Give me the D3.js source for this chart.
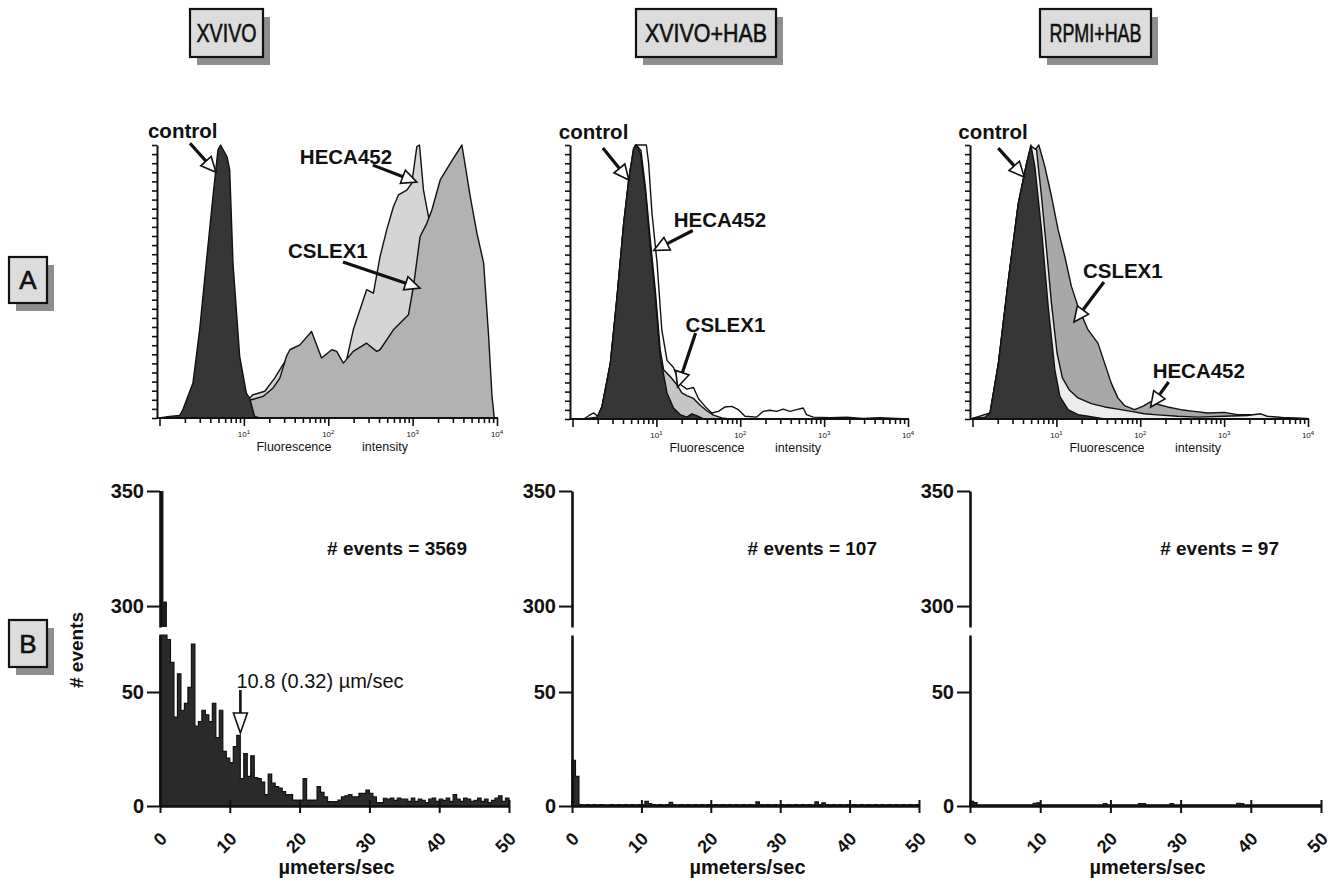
<!DOCTYPE html>
<html><head><meta charset="utf-8">
<script src="https://cdn.jsdelivr.net/npm/d3@7"></script>
<style>
body{margin:0;background:#fff}
svg{display:block}
text{font-family:"Liberation Sans",Arial,Helvetica,sans-serif;fill:#111}
</style></head>
<body><svg id="chart" width="1338" height="884"></svg>
<script>
// ---------------- DATA ----------------
const conditions = ["XVIVO", "XVIVO+HAB", "RPMI+HAB"];
const rowLabels = ["A", "B"];
const seriesNames = ["control", "HECA452", "CSLEX1"];
const decadeTicks = [10, 100, 1000, 10000];
const speedTicks = [0, 10, 20, 30, 40, 50];
const countTicksLow = [0, 50];
const countTicksHigh = [300, 350];
const eventTotals = [3569, 107, 97];
const medianLabel = "10.8 (0.32) \u00b5m/sec";
const medianValue = 10.8;

// Flow cytometry histograms: [fluorescence intensity, relative count (% of peak)]
const xvivoControl = [[1,0],[1.31,0.6],[1.73,0.9],[1.89,3],[2.49,12.8],[2.99,32.3],[3.58,56.7],[4.3,81.1],[4.93,98.2],[5.3,100],[6.31,95.7],[6.79,90.9],[7.43,56.7],[8.92,22.6],[10.7,9.1],[11.7,7.3],[13.4,0.6],[15.4,0]];
const xvivoHECA452 = [[3.27,0],[4.71,0.6],[6.79,1.8],[8.92,3.7],[12.8,8.5],[17.7,9.8],[23.2,14.6],[26.7,17.7],[32,21.6],[46.1,25.8],[63.4,30.1],[83.3,20.3],[110,23.4],[144,19.1],[165,21.3],[198,32.3],[285,47],[343,45.7],[411,59.1],[493,68.9],[592,77.4],[679,81.7],[853,83.5],[977,86],[1122,99.4],[1206,100],[1345,83.5],[1542,73.8],[1770,60],[2323,40],[3350,18],[4820,4],[6340,0]];
const xvivoCSLEX1 = [[3.58,0],[5.65,0.6],[8.15,2.4],[11.7,6.5],[16.9,7.9],[22.2,11],[26.7,14.6],[32,22.6],[35.1,25],[46.1,26.8],[63.4,31.7],[83.3,22],[110,25],[126,24.4],[151,20.1],[198,24.4],[285,27.4],[375,24.4],[411,25],[592,32.3],[892,37.8],[1023,48.2],[1227,66.5],[1473,71.3],[1690,76.2],[2123,87.2],[2792,93.3],[3840,100],[4820,81.1],[5780,67.7],[6950,56.7],[7960,29.9],[8730,7.9],[9290,0]];

const habControl = [[1.36,0],[1.96,0.7],[2.25,4.6],[2.83,20.4],[3.4,44.7],[4.08,71.4],[4.67,87.2],[5.36,98.8],[5.77,100],[6.44,97],[7.38,83.6],[8.46,62.9],[9.7,44.7],[11.1,22.8],[13.4,9.5],[16,4],[19.2,1.6],[23.1,0.7],[26.5,1.9],[30.3,1.2],[36.5,0]];
const habHECA452 = [[1.36,0],[1.56,1.2],[1.79,2.2],[2.06,0.7],[2.25,4.6],[2.83,20.4],[3.4,44.7],[4.08,71.4],[4.89,90.9],[5.61,100],[6.74,100],[7.59,100],[8.09,93.3],[8.86,75.1],[10.2,56.9],[11.6,32.6],[13.4,21.4],[16,18.8],[19.2,12.7],[23.1,10.9],[27.7,11.5],[31.8,7.4],[38.1,4.6],[45.8,2.2],[55,2.8],[65.9,4.4],[79.2,4.6],[95,3.4],[114,1],[157,0.7],[188,2.8],[226,3.2],[272,2.8],[326,3.6],[391,2.8],[469,3.4],[563,4],[617,1.6],[741,0.7],[1170,0.5],[1846,0.7],[2911,0.2],[4592,0.5],[7250,0.2],[10000,0]];
const habCSLEX1 = [[1.96,0],[2.25,4.6],[2.83,20.4],[3.4,44.7],[4.08,71.4],[4.67,87.2],[5.36,98.8],[5.77,100],[6.55,98],[7.38,84.8],[8.46,65.4],[9.7,47.1],[11.1,25.3],[12.2,18],[14.6,15.5],[17.6,12.5],[20.1,9.5],[23.1,8.5],[27.7,7.5],[33.3,5],[39.9,3],[47.9,1.4],[60.2,0.4],[75.6,0]];

const rpmiControl = [[1,0.2],[1.41,0.7],[1.62,2.2],[2.04,20.4],[2.68,50.8],[3.52,78.7],[4.42,93.3],[4.97,100],[5.54,92.1],[6.65,69],[7.98,41.1],[9.58,18],[11,8.3],[13.8,3.4],[18.1,1.6],[23.8,1],[37.6,0]];
const rpmiHECA452 = [[1,0.2],[1.62,2.2],[2.04,20.4],[2.68,50.8],[3.52,78.7],[4.42,93.3],[5.06,99.4],[5.8,98.2],[6.65,81.2],[7.63,62],[8.75,42],[10.2,24],[11.8,15],[14.2,10.7],[18.1,7.7],[26.1,5.6],[37.6,4.4],[54.1,3.6],[78,2.8],[112,1.9],[161,1.5],[279,1],[482,0.7],[1000,1],[1892,1.3],[2723,1.9],[3266,1],[5150,0.5],[7410,0.2],[9000,0]];
const rpmiCSLEX1 = [[1,0.2],[1.41,0.7],[1.62,2.2],[2.04,20.4],[2.68,50.8],[3.52,78.7],[4.42,93.3],[4.97,99.4],[5.54,98.2],[6.18,100],[7.29,92.1],[8.75,81.2],[10.5,69],[12.6,59.3],[15.1,48.4],[18.1,41.1],[23.8,32.6],[31.3,27.7],[37.6,20.4],[45.1,13.1],[54.1,7.7],[64.9,4.9],[85.3,3.4],[107,4.6],[135,6.4],[169,5.2],[212,4.4],[305,3.4],[440,2.8],[634,2.2],[1000,2.4],[1439,1.6],[2070,1.6],[2980,0.7],[5150,0.5],[9750,0.2],[10000,0]];

// Rolling velocity histograms: counts per 0.5 um/sec bin, 0-50 um/sec
const xvivoEvents = [350,302,73,63,39,58,42,45,52,71,
 35,37,42,40,37,45,30,42,24,21,
 19,26,31,12,23,13,22,12.5,12,10.5,
 5,14,10,8.5,7.8,6.3,5,5,2.6,2.6,
 2.6,12,2.6,2.6,2.6,8.5,6,4,1.9,1.9,
 1.9,2.6,4,4.5,5,4,4,5.5,5.5,7,
 5.5,4,1.5,1.5,3.4,3,3.5,2.5,3.5,3,
 3,2,3.5,2,3,2.5,1.5,3,3.5,2,
 3,2.5,3.5,2,5,3,2,3.5,3,2,
 2.5,3.5,2,3,1.5,2.5,3.5,4.5,2,3.5];
const xvivoHabEvents = [20,13,0.6,0.5,0.6,0.5,0.6,0.5,0.6,0.5,
 0.5,0.6,0.5,0.6,0.5,0.6,0.5,0.6,0.5,0.6,
 0.6,2,1,0.6,0.5,0.6,0.5,0.6,1.6,0.6,
 0.5,0.6,0.5,0.6,0.5,0.6,0.5,0.6,0.5,0.6,
 0.5,0.6,0.5,0.6,0.5,0.6,0.5,0.6,0.5,0.6,
 0.5,0.6,0.5,1.8,0.6,0.5,0.6,0.5,0.6,0.5,
 0.6,0.5,0.6,0.5,0.6,0.5,0.6,0.5,0.6,0.5,
 1.8,0.6,1.4,0.6,0.5,0.6,0.5,0.6,0.5,0.6,
 0.5,0.6,0.5,0.6,0.5,0.6,0.5,0.6,0.5,0.6,
 0.5,0.6,0.5,0.6,0.5,0.6,0.5,0.6,0.5,0.6];
const rpmiHabEvents = [2,1.5,0.5,0.5,0.5,0.5,0.5,0.5,0.5,0.5,
 0.5,0.5,0.5,0.5,0.5,0.5,0.5,0.5,1.2,1.4,
 0.5,0.5,0.5,0.5,0.5,0.5,0.5,0.5,0.5,0.5,
 0.5,0.5,0.5,0.5,0.5,0.5,0.5,0.5,1,0.5,
 0.5,0.5,0.5,0.5,0.5,0.5,0.5,0.5,1,1,
 0.5,0.5,0.5,0.5,0.5,0.5,0.5,1,0.5,0.5,
 0.5,0.5,0.5,0.5,0.5,0.5,0.5,0.5,0.5,0.5,
 0.5,0.5,0.5,0.5,0.5,0.5,1.2,1,0.5,0.5,
 0.5,0.5,0.5,0.5,0.5,0.5,0.5,0.5,0.5,0.5,
 0.5,0.5,0.5,0.5,0.5,0.5,0.5,0.5,0.5,0.5];
const binWidth = 0.5;

// ---------------- LAYOUT / STYLE ----------------
const svg = d3.select("#chart");
const flowPanels = [
  {x0:158, x1:497, base:418, order:["HECA452","CSLEX1","control"],
   fills:{control:"#363636", HECA452:"#d5d5d5", CSLEX1:"#b2b2b2"},
   data:{control:xvivoControl, HECA452:xvivoHECA452, CSLEX1:xvivoCSLEX1},
   annots:[{t:"control", tip:[4.67,90], from:[-26,-29], lab:[-68,-34]},
           {t:"HECA452", tip:[1122,86.4], from:[-44,-17], lab:[-117,-18]},
           {t:"CSLEX1", tip:[1222,47.6], from:[-77,-26], lab:[-132,-30]}]},
  {x0:571, x1:908, base:419, order:["HECA452","CSLEX1","control"],
   fills:{control:"#363636", HECA452:"#fbfbfb", CSLEX1:"#c6c6c6"},
   data:{control:habControl, HECA452:habHECA452, CSLEX1:habCSLEX1},
   annots:[{t:"control", tip:[4.7,87.2], from:[-26,-32], lab:[-70,-41]},
           {t:"HECA452", tip:[9.31,61.5], from:[39,-20], lab:[20,-23]},
           {t:"CSLEX1", tip:[17.9,11.7], from:[18,-54], lab:[8,-55]}]},
  {x0:971, x1:1308, base:419, order:["CSLEX1","HECA452","control"],
   fills:{control:"#363636", HECA452:"#ececec", CSLEX1:"#a8a8a8"},
   data:{control:rpmiControl, HECA452:rpmiHECA452, CSLEX1:rpmiCSLEX1},
   annots:[{t:"control", tip:[4.14,88.3], from:[-26,-29], lab:[-66,-38]},
           {t:"CSLEX1", tip:[16.2,35.4], from:[30,-40], lab:[9,-44]},
           {t:"HECA452", tip:[133,4.4], from:[18,-25], lab:[2,-29]}]}
];
const histPanels = [
  {x0:160, x1:509, values:xvivoEvents, median:true},
  {x0:572, x1:919, values:xvivoHabEvents},
  {x0:970, x1:1321, values:rpmiHabEvents}
];
const titleBoxes = [{x:190,w:73,tw:60},{x:636,w:140,tw:122},{x:1040,w:111,tw:92}];

function arrow(g, x1, y1, x2, y2, headLen, headW, lw){
  const dx=x2-x1, dy=y2-y1, L=Math.hypot(dx,dy), ux=dx/L, uy=dy/L;
  const bx=x2-ux*headLen, by=y2-uy*headLen;
  g.append("line").attr("x1",x1).attr("y1",y1).attr("x2",bx+ux*1).attr("y2",by+uy*1)
    .attr("stroke","#111").attr("stroke-width",lw);
  g.append("path")
    .attr("d",`M${x2},${y2}L${bx+uy*headW},${by-ux*headW}L${bx-uy*headW},${by+ux*headW}Z`)
    .attr("fill","#fff").attr("stroke","#111").attr("stroke-width",1.6).attr("stroke-linejoin","miter");
}

function shadowBox(x, y, w, h, label, tw, fs){
  const g = svg.append("g");
  g.append("rect").attr("x",x+7).attr("y",y+8).attr("width",w).attr("height",h).attr("fill","#8e8e8e");
  g.append("rect").attr("x",x).attr("y",y).attr("width",w).attr("height",h)
    .attr("fill","#dcdcdc").attr("stroke","#111").attr("stroke-width",2.2);
  const t = g.append("text").attr("x",x+w/2).attr("y",y+h/2+9).attr("text-anchor","middle")
    .attr("font-size",fs).attr("stroke","#111").attr("stroke-width",0.6).text(label);
  if (tw) t.attr("textLength",tw).attr("lengthAdjust","spacingAndGlyphs");
}

// Titles and row labels
conditions.forEach((c,i)=>{ const b=titleBoxes[i]; shadowBox(b.x, 9, b.w, 48, c, b.tw, 26); });
shadowBox(9, 257, 38, 46, rowLabels[0], null, 26);
shadowBox(9, 620, 38, 47, rowLabels[1], null, 26);

// ---------------- Flow cytometry panels (row A) ----------------
flowPanels.forEach(p=>{
  const g = svg.append("g");
  const x = d3.scaleLog().domain([1,1e4]).range([p.x0+1.5, p.x1]);
  const y = d3.scaleLinear().domain([0,100]).range([p.base, 145]);
  const area = d3.area().x(d=>x(d[0])).y0(y(0)).y1(d=>y(d[1])).curve(d3.curveLinear);
  p.order.forEach(k=>{
    g.append("path").datum(p.data[k]).attr("d",area).attr("fill",p.fills[k])
      .attr("stroke","#111").attr("stroke-width",1.4).attr("stroke-linejoin","round");
  });
  const tv = [];
  for (let k=0;k<4;k++) for (let m=1;m<10;m++) tv.push(m*Math.pow(10,k));
  tv.push(1e4);
  const ax = g.append("g").attr("transform",`translate(0,${p.base})`)
    .call(d3.axisBottom(x).tickValues(tv).tickSize(5).tickSizeOuter(0).tickFormat(""));
  ax.select(".domain").attr("stroke","#111").attr("stroke-width",2).attr("d",`M${p.x0-1},0H${p.x1+1}`);
  ax.selectAll(".tick line").attr("stroke","#111").attr("stroke-width",1.6)
    .attr("y2",d=>decadeTicks.includes(d)||d===1?8:5);
  decadeTicks.forEach((d,i)=>{
    const t = g.append("text").attr("x",x(d)).attr("y",p.base+19).attr("text-anchor","middle").attr("font-size",8);
    t.append("tspan").text("10");
    t.append("tspan").attr("dy",-3).attr("font-size",6).text(String(i+1));
  });
  g.append("text").attr("x",p.x0+136).attr("y",p.base+33).attr("text-anchor","middle").attr("font-size",12.5).text("Fluorescence");
  g.append("text").attr("x",p.x0+227).attr("y",p.base+33).attr("text-anchor","middle").attr("font-size",12.5).text("intensity");
  const ay = g.append("g").attr("transform",`translate(${p.x0-1},0)`)
    .call(d3.axisLeft(y).tickValues(d3.range(31).map(i=>i*100/30)).tickSize(5).tickSizeOuter(0).tickFormat(""));
  ay.select(".domain").attr("stroke","#111").attr("stroke-width",2);
  ay.selectAll(".tick line").attr("stroke","#111").attr("stroke-width",1.6);
  p.annots.forEach(a=>{
    const tx=x(a.tip[0]), ty=y(a.tip[1]);
    arrow(g, tx+a.from[0], ty+a.from[1], tx, ty, 15, 7, 3.2);
    g.append("text").attr("x",tx+a.lab[0]).attr("y",ty+a.lab[1]).attr("font-size",20.5)
      .attr("font-weight","bold").text(a.t);
  });
});

// ---------------- Velocity histograms (row B) ----------------
histPanels.forEach((p,pi)=>{
  const g = svg.append("g");
  const x = d3.scaleLinear().domain([0,50]).range([p.x0,p.x1]);
  const yLo = d3.scaleLinear().domain([0,75]).range([806,635]);
  const yHi = d3.scaleLinear().domain([290.9,350]).range([627,491]);
  const pts = p.values.map((v,i)=>[i*binWidth, v]);
  pts.push([50, p.values[p.values.length-1]]);
  // lower segment
  g.append("path").datum(pts)
    .attr("d",d3.area().x(d=>x(d[0])).y0(806).y1(d=>yLo(Math.min(d[1],75))).curve(d3.curveStepAfter))
    .attr("fill","#2a2a2a").attr("stroke","#111").attr("stroke-width",1.2).attr("stroke-linejoin","miter");
  // upper segment (above axis break)
  if (d3.max(p.values) > 290.9) {
    g.append("path").datum(pts)
      .attr("d",d3.area().x(d=>x(d[0])).y0(627).y1(d=>yHi(Math.max(290.9,Math.min(d[1],350)))).curve(d3.curveStepAfter))
      .attr("fill","#1c1c1c");
  }
  [[yLo,countTicksLow],[yHi,countTicksHigh]].forEach(([sc,tv])=>{
    const a = g.append("g").attr("transform",`translate(${p.x0},0)`)
      .call(d3.axisLeft(sc).tickValues(tv).tickSize(13).tickSizeOuter(0).tickPadding(3));
    a.select(".domain").attr("stroke","#111").attr("stroke-width",2.6);
    a.selectAll(".tick line").attr("stroke","#111").attr("stroke-width",2);
    a.selectAll(".tick text").attr("font-size",20).attr("font-weight","bold")
      .attr("font-family","Liberation Sans, Arial, sans-serif").attr("fill","#111");
  });
  const ax = g.append("g").attr("transform","translate(0,806)")
    .call(d3.axisBottom(x).tickValues(speedTicks).tickSize(7).tickSizeOuter(0).tickFormat(""));
  ax.select(".domain").attr("stroke","#111").attr("stroke-width",2.6);
  ax.selectAll(".tick line").attr("stroke","#111").attr("stroke-width",2).attr("y1",-6).attr("y2",7);
  speedTicks.forEach(v=>{
    g.append("text").attr("transform",`translate(${x(v)+8},840) rotate(-45)`)
      .attr("text-anchor","end").attr("font-size",18).attr("font-weight","bold").text(v);
  });
  g.append("text").attr("x",(p.x0+p.x1)/2+2).attr("y",874).attr("text-anchor","middle")
    .attr("font-size",20).attr("font-weight","bold").text("\u00b5meters/sec");
  g.append("text").attr("x",p.x1-42).attr("y",555).attr("text-anchor","end")
    .attr("font-size",19).attr("font-weight","bold").text(`# events = ${eventTotals[pi]}`);
  if (p.median){
    const mx = x(medianValue)+5;
    arrow(g, mx, 690, mx, 733, 20, 7, 2.6);
    g.append("text").attr("x",mx-4).attr("y",688).attr("font-size",20).text(medianLabel);
  }
});
svg.append("text").attr("transform","translate(83,650) rotate(-90)").attr("text-anchor","middle")
  .attr("font-size",19).attr("font-weight","bold").text("# events");
</script></body></html>
